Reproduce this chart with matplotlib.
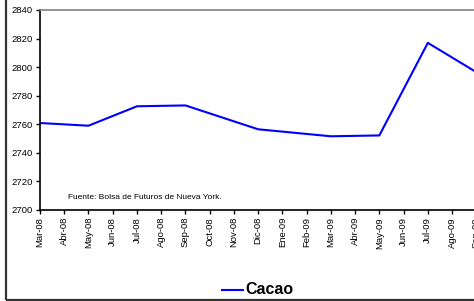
import matplotlib
matplotlib.use("Agg")
import matplotlib.pyplot as plt
import numpy as np
from matplotlib.patches import Rectangle

plt.rcParams['font.family'] = ['Liberation Sans', 'DejaVu Sans']

# meses del eje x
meses = ['Mar-08', 'Abr-08', 'May-08', 'Jun-08', 'Jul-08', 'Ago-08', 'Sep-08',
         'Oct-08', 'Nov-08', 'Dic-08', 'Ene-09', 'Feb-09', 'Mar-09', 'Abr-09',
         'May-09', 'Jun-09', 'Jul-09', 'Ago-09', 'Sep-09']
# precio del cacao (solo meses con dato)
cacao = [2760.9, None, 2759.0, None, 2772.6, None, 2773.2, None, None, 2756.5,
         None, None, 2751.6, None, 2752.2, None, 2817.0, None, 2796.5]
fuente = 'Fuente: Bolsa de Futuros de Nueva York.'

x = np.array([i for i, v in enumerate(cacao) if v is not None])
y = np.array([v for v in cacao if v is not None])

fig = plt.figure(figsize=(4.74, 3.01), dpi=100)
ax = fig.add_axes([40/474, 91/301, 20*24.24/474, 200/301])

ax.plot(x, y, color='#0000ff', lw=1.5, label='Cacao')

ax.set_xlim(0, 20)
ax.set_ylim(2700, 2840)
ax.set_yticks(np.arange(2700, 2841, 20))
ax.set_xticks(range(len(meses)))
ax.set_xticklabels(meses, rotation=90, fontsize=6.8)
ax.tick_params(axis='y', labelsize=6.8, length=3, width=1, pad=2)
ax.tick_params(axis='x', length=3, width=1, pad=2)

ax.spines['right'].set_visible(False)
ax.spines['top'].set_color('#808080')
ax.spines['top'].set_linewidth(1.2)
ax.spines['left'].set_linewidth(1.2)
ax.spines['bottom'].set_linewidth(1.2)

ax.text(1.16, 2709, fuente, fontsize=6, va='center', ha='left')

# leyenda abajo
fig.lines.append(plt.Line2D([222/474, 243/474], [1 - 290/301, 1 - 290/301],
                            color='#0000ff', lw=1.5, transform=fig.transFigure))
fig.text(245/474, 1 - 290/301, 'Cacao', fontsize=11.5, fontweight='bold',
         va='center', ha='left')

# marco del grafico
fig.patches.append(Rectangle((6/474, 1/301), 1.2, 1.2, fill=False,
                             edgecolor='#333333', lw=1.6,
                             transform=fig.transFigure))

fig.savefig('out.png', dpi=100)
